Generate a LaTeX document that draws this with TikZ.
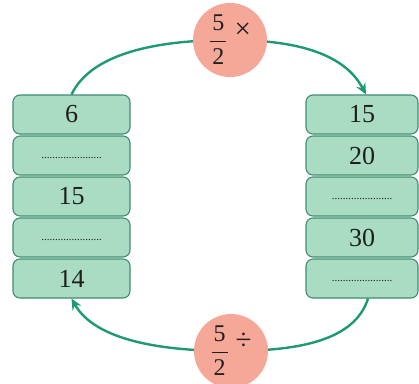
\documentclass[tikz,border=0pt]{standalone}
\usepackage{fontspec}
\setmainfont{Liberation Serif}
\usetikzlibrary{arrows.meta,backgrounds}
\definecolor{boxfill}{HTML}{A9DCC3}
\definecolor{boxline}{HTML}{3E8E6E}
\definecolor{arccol}{HTML}{1E9A70}
\definecolor{pinkc}{HTML}{F6A898}
\definecolor{txt}{HTML}{1E1E1E}
\begin{document}
\begin{tikzpicture}[x=1pt,y=-1pt,
  cell/.style={draw=boxline, fill=boxfill, line width=1.1pt, rounded corners=7pt,
    minimum height=39pt, inner sep=0pt, text=txt, font=\fontsize{26}{26}\selectfont},
  lcell/.style={cell, minimum width=117pt},
  rcell/.style={cell, minimum width=112pt},
  opcirc/.style={circle, fill=pinkc, minimum size=74pt, inner sep=0pt, text=txt,
    font=\fontsize{24}{24}\selectfont},
  arcline/.style={draw=arccol, line width=2.4pt, -{Stealth[length=11pt,width=10pt]}}]
\useasboundingbox (0,0) rectangle (419,383);
\newcommand{\blank}{\raisebox{-6pt}{\fontsize{11}{11}\selectfont ......................}}
\newcommand{\opfrac}[1]{$\displaystyle{\hbox{\kern2pt 5\kern2pt}\above 1.4pt\hbox{\kern2pt 2\kern2pt}}$\hspace{7pt}\raisebox{9pt}{\fontsize{29}{29}\selectfont #1}\hspace{10pt}}
% left column
\node[lcell] (L1) at (71.5,114.5) {6};
\node[lcell] (L2) at (71.5,155.5) {\blank};
\node[lcell] (L3) at (71.5,196.5) {15};
\node[lcell] (L4) at (71.5,237.5) {\blank};
\node[lcell] (L5) at (71.5,278.5) {14};
% right column
\node[rcell] (R1) at (362,114.5) {15};
\node[rcell] (R2) at (362,155.5) {20};
\node[rcell] (R3) at (362,196.5) {\blank};
\node[rcell] (R4) at (362,237.5) {30};
\node[rcell] (R5) at (362,278.5) {\blank};
% operators
\node[opcirc] (mul) at (230,40) {\opfrac{×}};
\node[opcirc] (div) at (231,351) {\opfrac{÷}};
\begin{scope}[on background layer]
\draw[arcline] (L1.north) .. controls (92,52) and (160,40) .. (mul.center)
  .. controls (300,40) and (345,55) .. ([xshift=4pt]R1.north);
\draw[arcline] ([xshift=6pt]R5.south) .. controls (355,340) and (300,351) .. (div.center)
  .. controls (160,351) and (95,340) .. (L5.south);
\end{scope}
\end{tikzpicture}
\end{document}
